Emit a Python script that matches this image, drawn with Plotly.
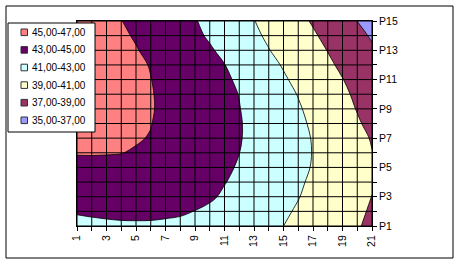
import plotly.graph_objects as go

# ---- data ----
x_labels = [1, 2, 3, 4, 5, 6, 7, 8, 9, 10, 11, 12, 13, 14, 15, 16, 17, 18, 19, 20, 21]
y_labels = ["P1", "P2", "P3", "P4", "P5", "P6", "P7", "P8", "P9", "P10",
            "P11", "P12", "P13", "P14", "P15"]

row_P1 = [42.40, 42.58, 42.68, 42.74, 42.75, 42.74, 42.64, 42.46, 42.25, 42.00, 41.80,
          41.60, 41.40, 41.20, 41.00, 40.63, 40.26, 39.89, 39.52, 39.15, 38.60]
row_P2 = [43.18, 43.27, 43.35, 43.42, 43.44, 43.43, 43.36, 43.28, 42.97, 42.75, 42.44,
          42.13, 41.82, 41.51, 41.20, 40.85, 40.45, 40.05, 39.64, 39.24, 38.85]
row_P3 = [43.80, 43.85, 43.87, 43.86, 43.82, 43.75, 43.65, 43.52, 43.37, 43.18, 42.82,
          42.47, 42.11, 41.76, 41.40, 41.05, 40.64, 40.23, 39.82, 39.41, 38.98]
row_P4 = [44.30, 44.33, 44.33, 44.30, 44.22, 44.02, 43.83, 43.63, 43.44, 43.24, 43.05,
          42.71, 42.33, 41.95, 41.56, 41.18, 40.79, 40.39, 39.99, 39.60, 39.15]
row_P5 = [44.75, 44.78, 44.77, 44.74, 44.66, 44.41, 44.16, 43.92, 43.67, 43.42, 43.17,
          42.91, 42.51, 42.12, 41.72, 41.32, 40.92, 40.49, 40.06, 39.63, 39.20]
row_P6 = [45.05, 45.05, 45.04, 45.02, 44.92, 44.65, 44.38, 44.10, 43.83, 43.56, 43.29,
          43.01, 42.61, 42.20, 41.79, 41.38, 40.96, 40.47, 39.98, 39.49, 39.03]
row_P7 = [45.35, 45.28, 45.22, 45.15, 45.08, 44.95, 44.63, 44.31, 44.00, 43.69, 43.38,
          43.08, 42.68, 42.24, 41.81, 41.37, 40.93, 40.42, 39.92, 39.41, 38.90]
row_P8 = [45.60, 45.48, 45.36, 45.24, 45.12, 45.03, 44.70, 44.37, 44.05, 43.73, 43.41,
          43.09, 42.67, 42.21, 41.75, 41.29, 40.80, 40.26, 39.72, 39.17, 38.60]
row_P9 = [45.80, 45.65, 45.50, 45.35, 45.20, 45.08, 44.77, 44.43, 44.08, 43.73, 43.39,
          43.04, 42.58, 42.10, 41.63, 41.15, 40.61, 40.05, 39.49, 38.93, 38.40]
row_P10 = [45.95, 45.77, 45.59, 45.41, 45.23, 45.07, 44.75, 44.39, 44.04, 43.69, 43.33,
           42.97, 42.46, 41.96, 41.45, 40.94, 40.39, 39.84, 39.29, 38.73, 38.15]
row_P11 = [46.05, 45.85, 45.64, 45.44, 45.23, 45.02, 44.68, 44.31, 43.95, 43.58, 43.22,
           42.79, 42.25, 41.71, 41.18, 40.64, 40.11, 39.57, 39.04, 38.47, 37.90]
row_P12 = [46.10, 45.87, 45.65, 45.42, 45.20, 44.95, 44.57, 44.18, 43.80, 43.41, 43.03,
           42.50, 41.96, 41.42, 40.88, 40.34, 39.81, 39.27, 38.71, 38.10, 37.50]
row_P13 = [46.10, 45.84, 45.58, 45.33, 45.07, 44.71, 44.32, 43.93, 43.55, 43.16, 42.67,
           42.13, 41.59, 41.05, 40.53, 40.01, 39.49, 38.96, 38.38, 37.79, 37.20]
row_P14 = [46.05, 45.77, 45.48, 45.20, 44.88, 44.48, 44.08, 43.67, 43.27, 42.83, 42.31,
           41.79, 41.28, 40.76, 40.23, 39.71, 39.19, 38.62, 38.02, 37.42, 36.83]
row_P15 = [46.00, 45.68, 45.35, 45.03, 44.64, 44.25, 43.86, 43.47, 43.09, 42.59, 42.08,
           41.56, 41.04, 40.50, 39.95, 39.41, 38.85, 38.23, 37.61, 36.99, 36.37]

band_names = ["45,00-47,00", "43,00-45,00", "41,00-43,00",
              "39,00-41,00", "37,00-39,00", "35,00-37,00"]
band_lows = [45, 43, 41, 39, 37, 35]

# ---- styling ----
band_colors = ["#FF8080", "#660066", "#CCFFFF", "#FFFFCC", "#993366", "#9999FF"]
FONT = "Liberation Sans, Arial, sans-serif"
W, H = 461, 265
ML, MR, MT, MB = 77, 89, 21, 39
PW, PH = W - ML - MR, H - MT - MB


def px_x(p):  # pixel column -> paper x
    return (p - ML) / PW


def px_y(p):  # pixel row -> paper y
    return (H - MB - p) / PH


z_rows = [row_P1, row_P2, row_P3, row_P4, row_P5, row_P6, row_P7, row_P8,
          row_P9, row_P10, row_P11, row_P12, row_P13, row_P14, row_P15]
y_pos = list(range(1, len(y_labels) + 1))

band_step = band_lows[0] - band_lows[1]
z_lo = min(band_lows)
z_hi = max(band_lows) + band_step

# step colorscale: band midpoints map to 0, .2, .4, .6, .8, 1
colors_low_to_high = band_colors[::-1]
n = len(colors_low_to_high)
edges = [0.0] + [(i + 0.5) / (n - 1) for i in range(n - 1)] + [1.0]
colorscale = []
for i, c in enumerate(colors_low_to_high):
    colorscale.append([edges[i], c])
    colorscale.append([edges[i + 1], c])

fig = go.Figure()
fig.add_trace(go.Contour(
    x=x_labels, y=y_pos, z=z_rows,
    zmin=z_lo, zmax=z_hi, autocontour=False,
    contours=dict(start=z_lo + band_step, end=z_hi - band_step, size=band_step,
                  coloring="fill", showlines=True),
    colorscale=colorscale, showscale=False,
    line=dict(color="black", width=0.8, smoothing=1),
    hoverinfo="skip", showlegend=False,
))

# grid lines drawn on top of the filled contour
gx, gy = [], []
for xv in x_labels:
    gx += [xv, xv, None]
    gy += [y_pos[0], y_pos[-1], None]
for yv in y_pos:
    gx += [x_labels[0], x_labels[-1], None]
    gy += [yv, yv, None]
fig.add_trace(go.Scatter(x=gx, y=gy, mode="lines",
                         line=dict(color="black", width=1),
                         hoverinfo="skip", showlegend=False))

# outer chart frame + legend box
shapes = [
    dict(type="rect", xref="paper", yref="paper",
         x0=px_x(6), x1=px_x(453), y0=px_y(258), y1=px_y(6),
         line=dict(color="black", width=1), fillcolor="rgba(0,0,0,0)", layer="above"),
    dict(type="rect", xref="paper", yref="paper",
         x0=px_x(8), x1=px_x(95), y0=px_y(132), y1=px_y(23),
         line=dict(color="black", width=1), fillcolor="white", layer="above"),
]
annotations = []
row0, row_step = 32.3, 17.6
for i, (name, col) in enumerate(zip(band_names, band_colors)):
    cy = row0 + i * row_step
    shapes.append(dict(type="rect", xref="paper", yref="paper",
                       x0=px_x(21), x1=px_x(27.5), y0=px_y(cy + 3.3), y1=px_y(cy - 3.3),
                       line=dict(color="#333333", width=1), fillcolor=col, layer="above"))
    annotations.append(dict(xref="paper", yref="paper", x=px_x(29.5), y=px_y(cy),
                            xanchor="left", yanchor="middle", text=name, showarrow=False,
                            font=dict(family=FONT, size=10, color="black")))

fig.update_layout(
    width=W, height=H,
    margin=dict(l=ML, r=MR, t=MT, b=MB),
    paper_bgcolor="white", plot_bgcolor="white",
    font=dict(family=FONT, size=10.5, color="black"),
    showlegend=False,
    xaxis=dict(range=[x_labels[0], x_labels[-1]], tickmode="array",
               tickvals=x_labels,
               ticktext=[str(v) if i % 2 == 0 else "" for i, v in enumerate(x_labels)],
               tickangle=-90, ticks="outside", ticklen=4, tickwidth=1,
               tickcolor="black", showgrid=False, zeroline=False,
               showline=True, linecolor="black", linewidth=1, mirror=True,
               tickfont=dict(family=FONT, size=10.5)),
    yaxis=dict(range=[y_pos[0], y_pos[-1]], tickmode="array", side="right",
               tickvals=y_pos,
               ticktext=[t if i % 2 == 0 else "" for i, t in enumerate(y_labels)],
               ticks="outside", ticklen=4, tickwidth=1, tickcolor="black",
               showgrid=False, zeroline=False,
               showline=True, linecolor="black", linewidth=1, mirror=True,
               tickfont=dict(family=FONT, size=10.5)),
    shapes=shapes,
    annotations=annotations,
)

fig.write_html("out.html", config=dict(displayModeBar=False),
               post_script="document.body.style.margin='0';document.body.style.overflow='hidden';")
